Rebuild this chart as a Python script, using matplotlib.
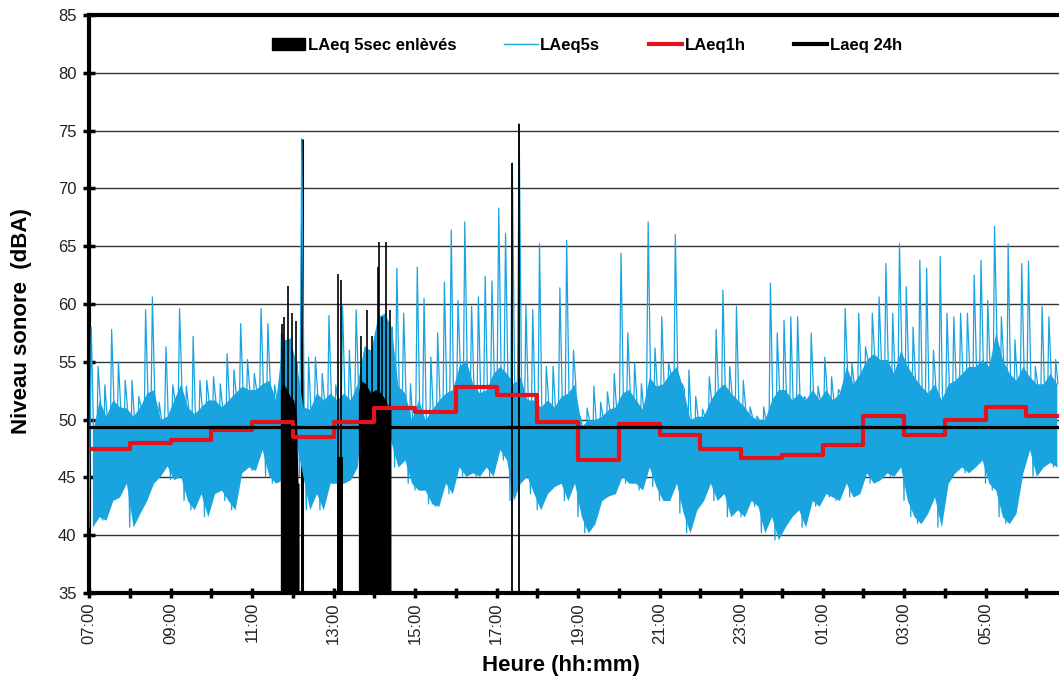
import matplotlib
matplotlib.use("Agg")
import matplotlib.pyplot as plt
from matplotlib.patches import Patch
from matplotlib.lines import Line2D

plt.rcParams['font.family'] = ['Liberation Sans', 'DejaVu Sans']

# ---------------- data (hours since 07:00) ----------------
# LAeq5s, read per 10-minute bin: body low, body high, spike max
blue_low = [40.7, 41.6, 41.3, 43.0, 43.3, 44.5, 40.7, 41.9, 43.0, 44.5, 45.1, 46.0,
            44.8, 45.1, 43.0, 42.2, 43.6, 41.6, 43.6, 43.9, 43.0, 42.2, 45.4, 45.9,
            45.6, 47.4, 45.1, 44.5, 44.8, 51.7, 48.0, 45.1, 42.2, 43.6, 42.2, 44.5,
            44.5, 44.5, 44.8, 45.9, 52.3, 52.3, 52.3, 51.7, 48.0, 45.9, 46.5, 44.5,
            43.9, 43.9, 42.7, 42.5, 44.5, 43.6, 45.9, 45.1, 45.4, 45.1, 45.9, 45.1,
            47.4, 46.5, 43.0, 44.5, 45.1, 43.6, 42.2, 43.6, 44.2, 44.5, 43.0, 44.5,
            41.6, 40.2, 41.0, 43.0, 43.4, 43.6, 45.1, 44.5, 44.5, 43.9, 45.9, 44.2,
            43.0, 43.0, 44.5, 41.9, 40.2, 42.2, 43.0, 44.5, 43.0, 43.6, 41.6, 42.2,
            41.6, 43.0, 42.5, 40.2, 41.6, 39.6, 40.7, 41.6, 42.2, 40.7, 43.0, 42.5,
            43.6, 43.3, 43.0, 44.5, 43.3, 43.6, 45.4, 44.5, 44.8, 45.4, 45.1, 45.9,
            43.0, 41.6, 41.0, 41.9, 43.3, 40.7, 44.5, 45.4, 45.9, 45.4, 45.9, 46.5,
            44.5, 43.9, 41.6, 41.0, 41.9, 45.4, 47.4, 45.1, 45.9, 46.3, 45.9]
blue_high = [48.8, 51.7, 50.3, 51.7, 51.1, 51.0, 50.3, 51.1, 52.3, 52.6, 50.0, 50.3,
             51.7, 53.1, 51.1, 50.5, 51.1, 51.7, 51.7, 51.1, 51.7, 52.3, 52.9, 52.6,
             52.6, 53.1, 53.4, 51.7, 56.9, 57.0, 55.0, 51.1, 50.9, 52.3, 51.7, 52.3,
             51.7, 52.3, 51.7, 53.1, 56.3, 56.0, 58.9, 59.2, 58.0, 52.9, 52.3, 50.0,
             51.7, 50.0, 50.9, 51.7, 52.3, 52.6, 54.6, 55.2, 53.1, 52.3, 52.6, 54.0,
             54.6, 54.0, 53.1, 53.7, 51.7, 51.7, 51.1, 51.7, 51.1, 52.0, 52.3, 53.1,
             49.4, 50.0, 50.0, 50.3, 50.9, 51.1, 52.3, 52.6, 51.7, 50.9, 53.7, 52.9,
             53.1, 54.0, 54.6, 52.6, 50.0, 50.3, 50.3, 51.7, 52.6, 53.1, 52.3, 51.7,
             51.1, 50.3, 50.0, 50.0, 51.7, 52.6, 52.6, 51.7, 52.3, 51.7, 52.6, 51.7,
             52.6, 51.7, 52.3, 54.6, 53.1, 54.0, 55.2, 55.7, 55.2, 55.2, 54.0, 56.0,
             54.6, 53.7, 52.9, 52.3, 53.1, 51.7, 53.1, 53.4, 54.0, 54.6, 54.6, 55.2,
             54.6, 57.5, 55.2, 54.0, 53.4, 54.6, 53.7, 53.1, 53.1, 54.0, 53.1]
blue_spike = [58.0, 54.6, 53.0, 57.8, 55.0, 53.4, 53.4, 52.0, 59.5, 60.6, 51.5, 56.3,
              53.0, 59.6, 52.9, 57.2, 53.4, 53.4, 53.7, 53.1, 55.7, 54.3, 58.3, 55.2,
              54.0, 59.6, 58.3, 53.0, 57.5, 56.0, 54.0, 74.3, 55.4, 55.4, 54.0, 59.0,
              53.0, 59.8, 56.0, 59.5, 55.0, 55.5, 57.0, 57.0, 56.0, 63.1, 59.2, 53.1,
              63.2, 60.5, 55.4, 57.5, 61.9, 66.4, 60.3, 67.1, 59.8, 60.6, 62.4, 62.0,
              68.3, 66.1, 72.2, 75.6, 59.9, 59.5, 65.2, 54.6, 54.6, 61.4, 65.5, 56.0,
              50.3, 51.0, 52.9, 51.5, 52.4, 54.0, 64.4, 57.5, 54.9, 53.1, 67.1, 56.2,
              58.9, 54.9, 66.0, 53.1, 54.3, 52.0, 50.9, 53.7, 57.8, 61.2, 54.6, 59.8,
              53.4, 51.1, 50.3, 51.1, 61.8, 57.5, 58.6, 58.9, 58.9, 52.0, 57.5, 52.9,
              55.4, 53.7, 52.6, 59.6, 54.9, 59.2, 56.3, 59.2, 60.6, 63.5, 59.2, 65.2,
              61.5, 58.0, 63.8, 63.1, 56.0, 64.1, 59.2, 58.9, 59.2, 59.2, 62.5, 63.8,
              60.3, 66.7, 58.9, 65.2, 56.9, 63.5, 63.7, 54.6, 59.8, 58.9, 55.2]

# LAeq1h (hourly steps, 07:00 -> 06:00)
laeq1h = [47.5, 48.0, 48.2, 49.1, 49.8, 48.5, 49.8, 51.0, 50.7, 52.85, 52.1, 49.8,
          46.5, 49.6, 48.65, 47.5, 46.7, 46.9, 47.8, 50.3, 48.7, 50.0, 51.1, 50.3]
laeq24h = 49.4

# LAeq 5 sec removed: solid blocks (time, level) and individual spikes
removed_blocks = [
    ([4.695, 4.777, 4.86, 4.94, 5.02, 5.09, 5.13, 5.155],
     [52.6, 53.1, 52.6, 52.0, 51.7, 50.3, 44.5, 44.5]),
    ([6.086, 6.233], [46.8, 46.8]),
    ([6.61, 6.67, 6.79, 6.91, 7.03, 7.16, 7.28, 7.36, 7.41],
     [52.3, 53.4, 53.1, 52.3, 52.6, 52.3, 51.7, 50.9, 50.9]),
]
removed_spike_t = [4.74, 4.78, 4.88, 4.98, 5.08, 6.11, 6.19, 6.667, 6.81, 6.95,
                   7.08, 7.12, 7.20, 7.30, 7.39]
removed_spike_v = [58.3, 58.9, 61.6, 59.2, 58.5, 62.6, 62.1, 57.2, 59.5, 57.2,
                   63.2, 65.4, 58.9, 65.4, 59.5]
removed_single_t = [5.222, 10.389, 10.556]
removed_single_v = [74.3, 72.2, 75.6]

hour_ticks = list(range(0, 24, 2))
tick_labels = ["%02d:00" % ((7 + h) % 24) for h in hour_ticks]

BLUE = '#19A3DF'
RED = '#E3121B'

# ---------------- figure ----------------
fig = plt.figure(figsize=(10.59, 6.87), dpi=100)
ax = fig.add_axes([89 / 1059, 1 - 593 / 687, 978 / 1059, 578 / 687])
ax.set_xlim(0, 24)
ax.set_ylim(35, 85)

# blue body (envelope of each 10-minute bin) + zigzag with spikes
centers = [(k + 0.5) / 6.0 for k in range(len(blue_low))]
ax.fill_between(centers, blue_low, blue_high, color=BLUE, lw=0, zorder=3)
bt, bv = [], []
for k in range(len(blue_low)):
    t0 = k / 6.0
    bt += [t0, t0 + 1 / 18, t0 + 2 / 18]
    bv += [blue_low[k], blue_spike[k], blue_high[k]]
ax.plot(bt, bv, color=BLUE, lw=0.9, zorder=3)

# removed data (black)
ax.vlines(removed_single_t[0], 35, removed_single_v[0], color='black', lw=2.2, zorder=2)
for t, v in removed_blocks:
    ax.fill_between(t, 35, v, color='black', lw=0, zorder=4)
ax.vlines(removed_spike_t, 35, removed_spike_v, color='black', lw=1.2, zorder=4)
ax.vlines(removed_single_t[1:], 35, removed_single_v[1:], color='black', lw=1.3, zorder=4)

# LAeq1h red step
st = list(range(len(laeq1h) + 1))
sv = laeq1h + [laeq1h[-1]]
ax.step(st, sv, where='post', color=RED, lw=3, zorder=5)
# LAeq 24h
ax.axhline(laeq24h, color='black', lw=2.3, zorder=6)

# grid & axes
ax.set_yticks(range(35, 90, 5))
ax.yaxis.grid(True, color='#333333', lw=1.0)
ax.set_axisbelow(True)
ax.set_xticks(hour_ticks)
ax.set_xticklabels(tick_labels, rotation=90)
ax.set_xticks(range(0, 25), minor=True)
ax.tick_params(axis='both', which='both', direction='inout', width=2.5, color='black')
ax.tick_params(axis='y', length=8, labelsize=12, labelcolor='#222222', pad=5)
ax.tick_params(axis='x', which='major', length=7, labelsize=12, labelcolor='#222222', pad=3)
ax.tick_params(axis='x', which='minor', length=7)
for s in ax.spines.values():
    s.set_linewidth(3)
    s.set_color('black')

ax.set_ylabel('Niveau sonore  (dBA)', fontsize=16, fontweight='bold')
ax.yaxis.set_label_coords(-0.058, 0.47)
ax.set_xlabel('Heure (hh:mm)', fontsize=16, fontweight='bold')
ax.xaxis.set_label_coords(0.483, -0.108)

handles = [Patch(facecolor='black', edgecolor='black'),
           Line2D([], [], color=BLUE, lw=1),
           Line2D([], [], color=RED, lw=3),
           Line2D([], [], color='black', lw=3)]
labels = ['LAeq 5sec enlèvés', 'LAeq5s', 'LAeq1h', 'Laeq 24h']
leg = ax.legend(handles, labels, loc='center', bbox_to_anchor=(0.509, 0.948), ncol=4,
                frameon=False, prop={'weight': 'bold', 'size': 12},
                handlelength=2.0, handleheight=0.75, handletextpad=0.15, columnspacing=2.9)

fig.savefig('out.png', dpi=100)
